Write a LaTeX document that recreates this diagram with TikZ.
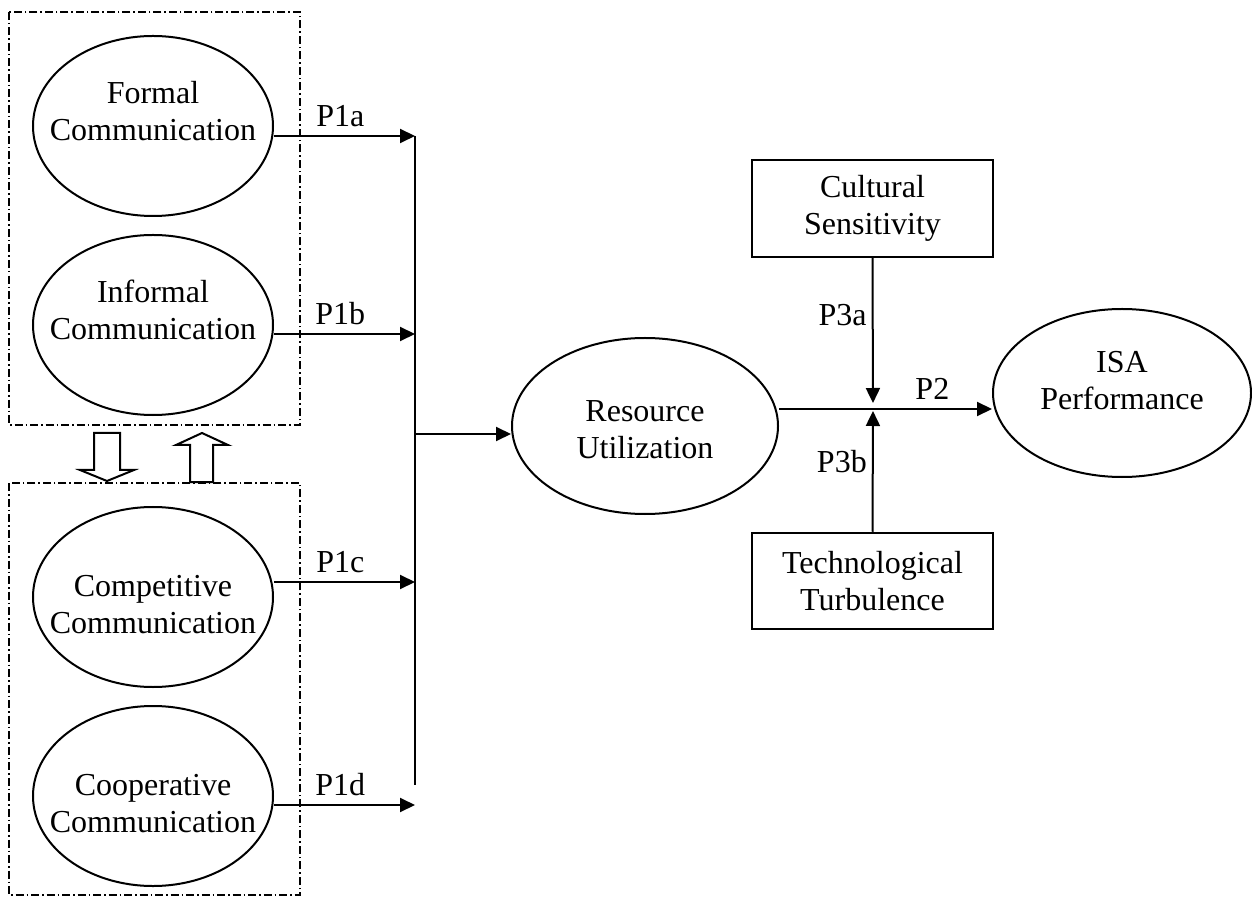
\documentclass[tikz,border=0pt]{standalone}
\usepackage{fontspec}
\setmainfont{Liberation Serif}
\usetikzlibrary{positioning,shapes.geometric,arrows.meta}

\begin{document}
\begin{tikzpicture}[x=0.4pt, y=-0.4pt, line width=0.8pt,
    font=\fontsize{12.8}{14.8}\selectfont,
    construct/.style={draw, ellipse, inner sep=0pt, minimum width=96pt, minimum height=72pt},
    txt/.style={align=center},
    factor/.style={draw, rectangle, align=center, minimum width=96.4pt, minimum height=38.6pt},
    arr/.style={-{Triangle[length=6pt,width=5.6pt]}},
    group/.style={draw, dash pattern=on 3.2pt off 1.2pt on 0.6pt off 1.2pt}]
    \useasboundingbox (0,0) rectangle (1252,898);

    \node[construct, label={[txt, yshift=6pt]center:Formal\\Communication}] (formal) at (153,126) {};
    \node[construct, label={[txt, yshift=6pt]center:Informal\\Communication}] (informal) at (153,325) {};
    \node[construct, label={[txt, yshift=-3pt]center:Competitive\\Communication}] (compet) at (153,597) {};
    \node[construct, label={[txt, yshift=-3pt]center:Cooperative\\Communication}] (coop) at (153,796) {};
    \node[construct, minimum width=106.4pt, minimum height=70.4pt,
        label={[txt, yshift=-1.5pt]center:Resource\\Utilization}] (res) at (645,426) {};
    \node[construct, minimum width=103.2pt, minimum height=67.2pt,
        label={[txt, yshift=5pt]center:ISA\\Performance}] (isa) at (1122,393) {};
    \node[factor] (cult) at (872.5,208.5) {Cultural\\Sensitivity};
    \node[factor] (tech) at (872.5,581) {Technological\\Turbulence};

    \draw[group] (9,12) rectangle (300,425);
    \draw[group] (9,483) rectangle (300,895);
    \draw (94,433) -- (120,433) -- (120,470) -- (134,470) -- (107,481) -- (80,470) -- (94,470) -- cycle;
    \draw (190,482) -- (190,445) -- (176,445) -- (202,433) -- (228,445) -- (213,445) -- (213,482) -- cycle;

    \coordinate (bus1) at (415,136);
    \coordinate (bus2) at (415,334);
    \coordinate (bus3) at (415,582);
    \coordinate (bus4) at (415,805);
    \coordinate (busend) at (415,785);
    \coordinate (hub) at (415,434);
    \coordinate (mid) at (873,409);

    \draw[arr] (formal.east |- bus1) -- node[above, pos=0.47] {P1a} (bus1);
    \draw[arr] (informal.east |- bus2) -- node[above, pos=0.47] {P1b} (bus2);
    \draw[arr] (compet.east |- bus3) -- node[above, pos=0.47] {P1c} (bus3);
    \draw[arr] (coop.east |- bus4) -- node[above, pos=0.47] {P1d} (bus4);
    \draw (bus1) -- (busend);
    \draw[arr] (hub) -- (res.west |- hub);

    \draw[arr] (res.east |- mid) -- node[above, pos=0.72] {P2} (isa.west |- mid);
    \draw[arr, shorten >=2.4pt] (cult.south) -- node[left, inner sep=2pt, pos=0.38] {P3a} (mid);
    \draw[arr, shorten >=0.8pt] (tech.north) -- node[left, inner sep=2pt, pos=0.57] {P3b} (mid);
\end{tikzpicture}
\end{document}
